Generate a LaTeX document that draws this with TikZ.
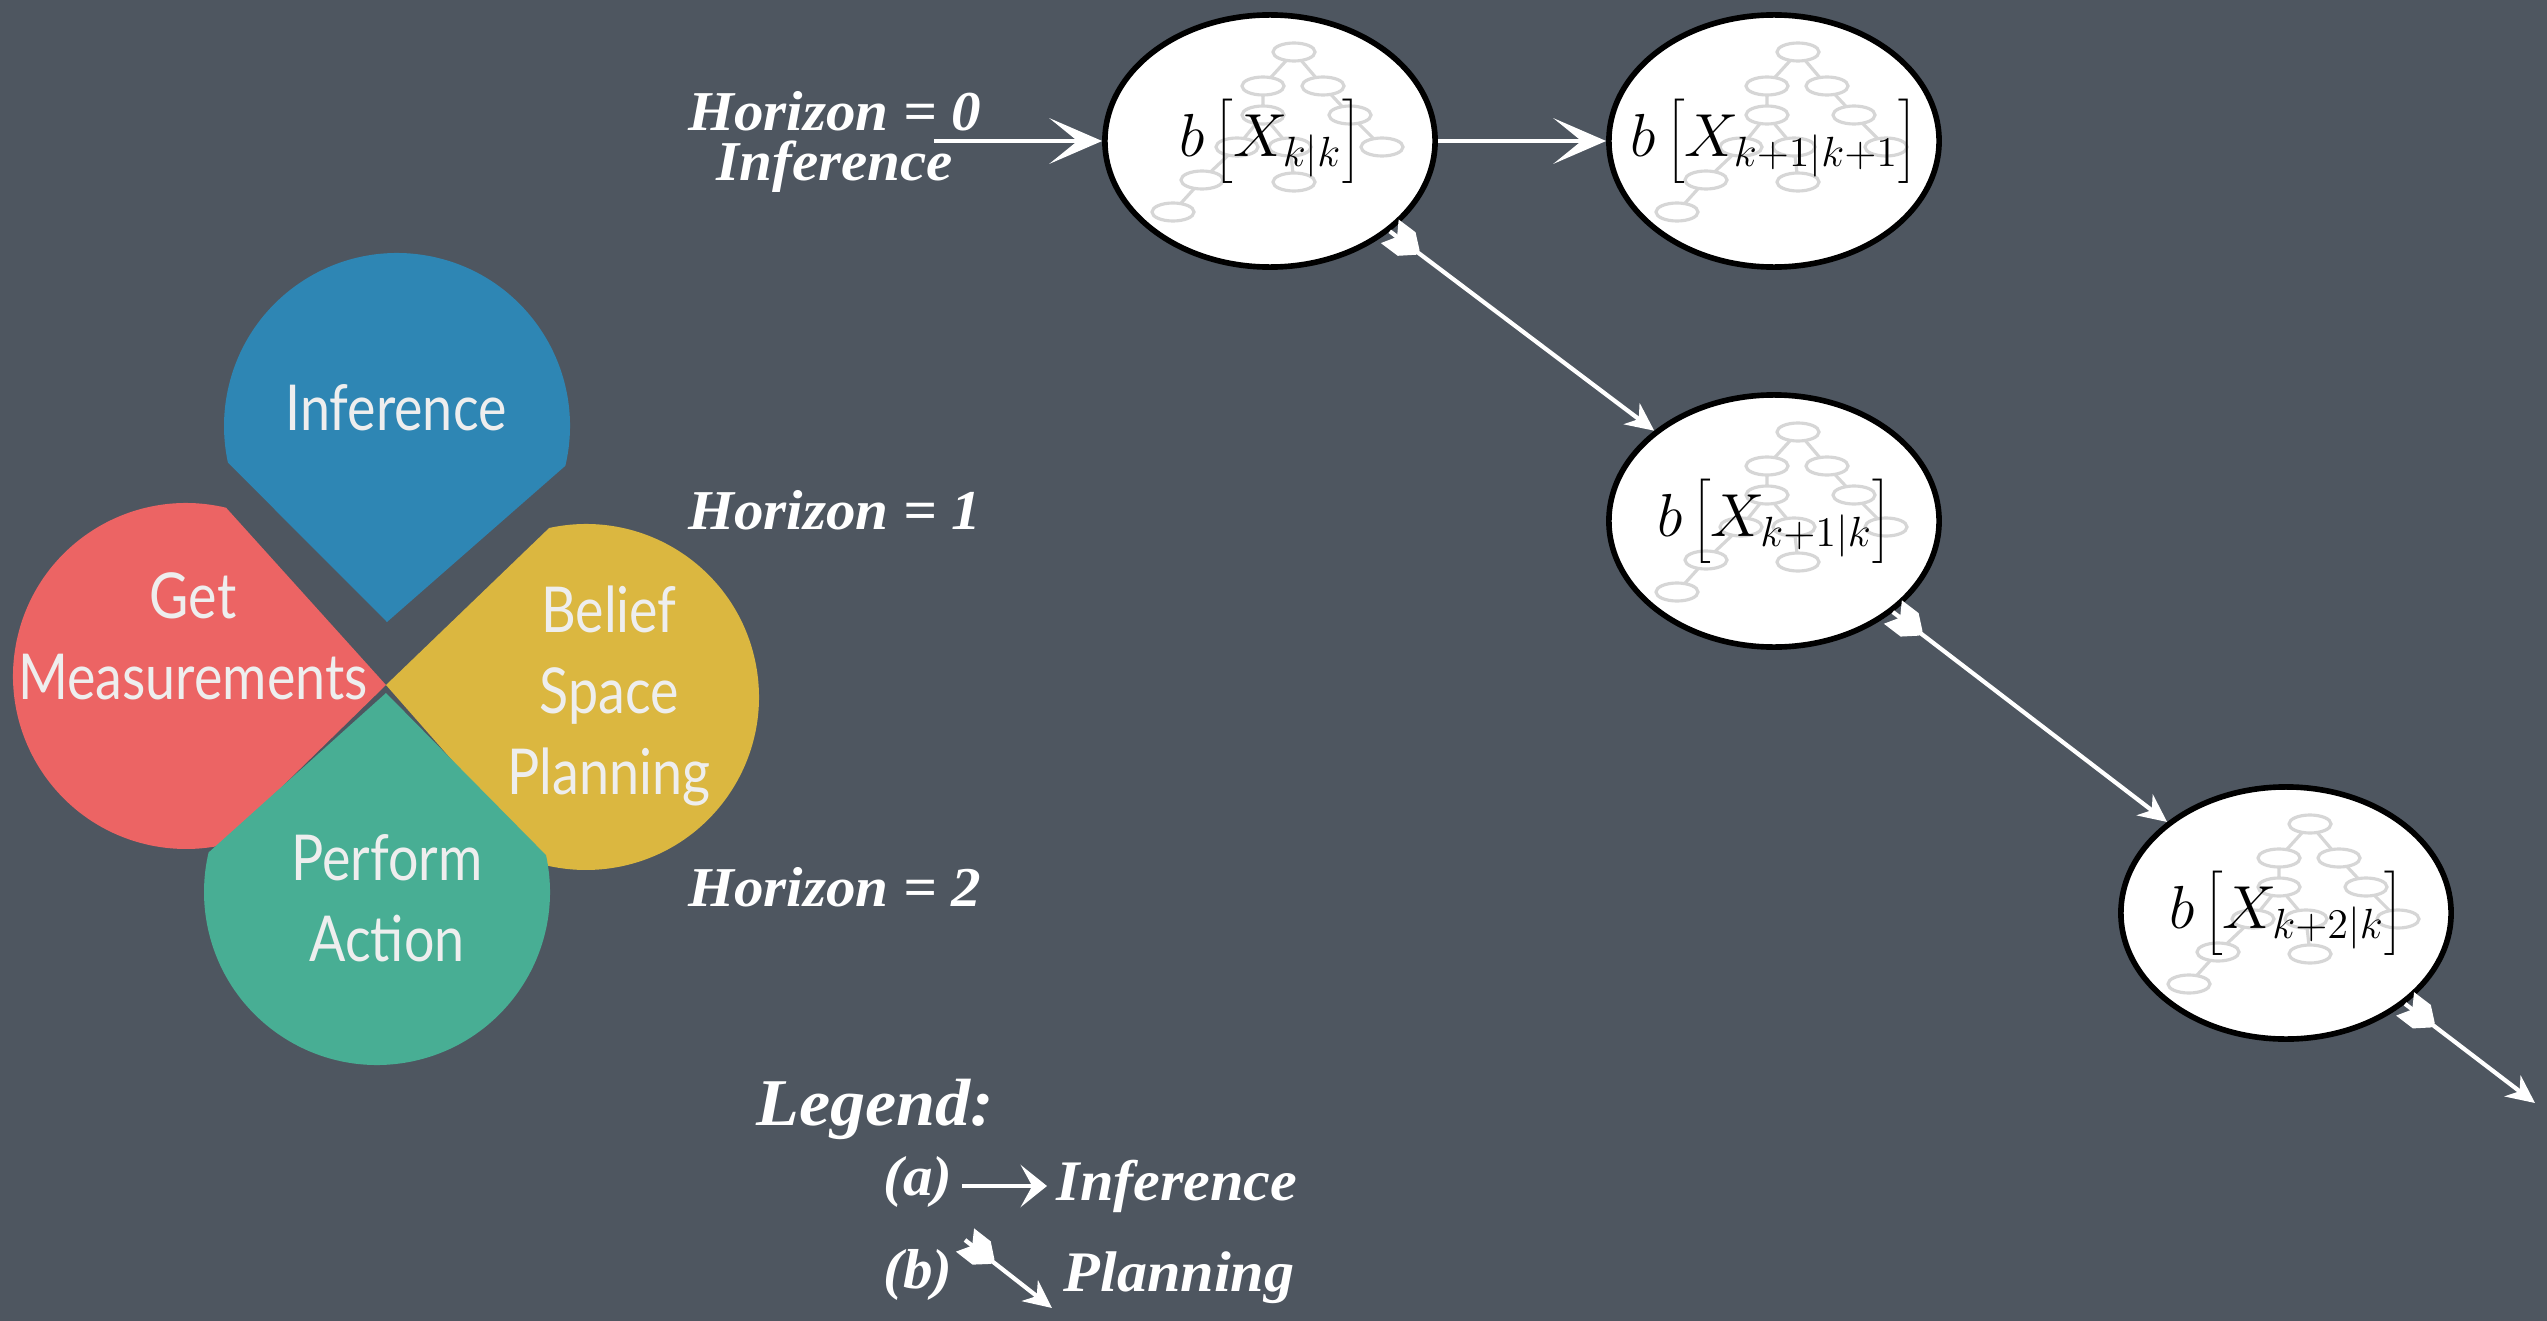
\documentclass[tikz,border=0pt]{standalone}
\usepackage{fontspec}
\setmainfont{Liberation Serif}
\newfontfamily\petalfont{Lato}[FakeStretch=0.85]
\newfontfamily\handfont{Liberation Serif}[FakeStretch=1.05]
\usetikzlibrary{arrows.meta,decorations.markings,shapes.geometric}
\definecolor{bg}{HTML}{4E5660}
\definecolor{pblue}{HTML}{2E86B4}
\definecolor{pred}{HTML}{EC6464}
\definecolor{pyellow}{HTML}{DBB740}
\definecolor{pgreen}{HTML}{48AE94}
\definecolor{ptext}{HTML}{EEEEEE}
\definecolor{treegray}{HTML}{D6D6D6}
\pgfdeclarelayer{bglayer}
\pgfdeclarelayer{filllayer}
\pgfdeclarelayer{treelayer}
\pgfsetlayers{bglayer,filllayer,treelayer,main}
\newcommand\beliefof[1]{\makebox[0pt]{$b\left[X_{#1}\right]$}}
\newcommand\fletch{\fill[white] (0pt,4.2pt) -- (2.6pt,0pt) -- (0pt,-4.2pt) -- (6pt,-4.2pt) -- (10pt,-0.8pt) -- (10pt,0.8pt) -- (6pt,4.2pt) -- cycle;}
\tikzset{
  btree/.pic={
    \begin{scope}[draw=treegray,line width=0.9pt]
      \draw (24,-89) -- (-7,-55) -- (-7,-26) -- (-33,6) -- (-68,39) -- (-97,71);
      \draw (24,-89) -- (53,-55) -- (80,-26) -- (112,6);
      \draw (-7,-26) -- (20,6) -- (24,41);
      \foreach \p in {(24,-89),(-7,-55),(53,-55),(-7,-26),(80,-26),(-33,6),(20,6),(112,6),(-68,39),(24,41),(-97,71)}
        \filldraw[fill=white] \p ellipse[x radius=21,y radius=9];
    \end{scope}},
  belief/.style={ellipse, draw=black, line width=1.6pt,
    minimum width=3.3cm, minimum height=2.52cm, inner sep=0pt,
    font=\fontsize{17}{20}\selectfont},
  infarrow/.style={-{Stealth[length=15pt,width=13pt,inset=8pt]}, draw=white, line width=1.2pt},
  legarrow/.style={-{Stealth[length=7.5pt,width=12pt,inset=3.3pt]}, draw=white, line width=1.2pt},
  planarrow/.style={-{Stealth[length=8pt,width=7.5pt,inset=2.5pt]}, draw=white, line width=1.2pt,
    postaction={decorate}, decoration={markings, mark=at position 0pt with {\fletch}}},
  petaltext/.style={text=ptext, font=\petalfont\fontsize{18}{23}\selectfont, align=center, inner sep=0pt},
  hand/.style={text=white, font=\handfont\bfseries\itshape\fontsize{16}{14.2}\selectfont, align=center, inner sep=0pt},
}
\begin{document}
\begin{tikzpicture}[x=0.01cm,y=-0.01cm]
  \begin{pgfonlayer}{bglayer}
    \fill[bg] (0,0) rectangle (2547,1321);
  \end{pgfonlayer}
  \useasboundingbox (0,0) rectangle (2547,1321);

  % petals
  \fill[pblue] (387,622) -- ([shift={(397,426)}]13.3:173) arc[start angle=13.3,end angle=-192.2,radius=173] -- cycle;
  \fill[pred] (386,685) -- ([shift={(186,676)}]-76.6:173) arc[start angle=-76.6,end angle=-282,radius=173] -- cycle;
  \fill[pyellow] (386,685) -- ([shift={(586,697)}]-102.3:173) arc[start angle=-102.3,end angle=104,radius=173] -- cycle;
  \fill[pgreen] (386,693) -- ([shift={(377,892)}]-12.3:173) arc[start angle=-12.3,end angle=193.2,radius=173] -- cycle;

  \node[petaltext] (pInf) at (396,408) {Inference};
  \node[petaltext] (pMeas) at (193,636) {Get\\Measurements};
  \node[petaltext] (pBSP) at (609,696) {Belief\\Space\\Planning};
  \node[petaltext] (pPA) at (387,898) {Perform\\Action};

  % belief nodes
  \node[belief] (e1) at (1270,141) {\beliefof{k|k}};
  \node[belief] (e2) at (1774,141) {\beliefof{k+1|k+1}};
  \node[belief] (e3) at (1774,521) {\beliefof{k+1|k}};
  \node[belief] (e4) at (2286,913) {\beliefof{k+2|k}};
  \begin{pgfonlayer}{filllayer}
    \foreach \n in {e1,e2,e3,e4}
      \fill[white] (\n.center) ellipse[x radius=165,y radius=126];
  \end{pgfonlayer}
  \begin{pgfonlayer}{treelayer}
    \foreach \n in {e1,e2,e3,e4}
      \pic at (\n.center) {btree};
  \end{pgfonlayer}

  % horizon labels
  \node[hand] (h0) at (835,142) {Horizon = 0\\Inference};
  \node[hand] (h1) at (835,510) {Horizon = 1};
  \node[hand] (h2) at (835,887) {Horizon = 2};

  \coordinate (in0) at (934,141);
  \draw[infarrow] (in0) -- (e1);
  \draw[infarrow] (e1) -- (e2);
  \draw[planarrow] (e1) -- (e3);
  \draw[planarrow] (e3) -- (e4);
  \coordinate (out4) at (2535,1103);
  \draw[planarrow] (e4) -- (out4);

  % legend
  \node[hand, font=\handfont\bfseries\itshape\fontsize{19}{23}\selectfont] (leg) at (875,1109) {Legend:};
  \node[hand] (la) at (918,1182) {(a)};
  \node[hand] (lb) at (918,1275) {(b)};
  \node[hand, font=\handfont\bfseries\itshape\fontsize{16.3}{20}\selectfont] (linf) at (1177,1186) {Inference};
  \node[hand, font=\handfont\bfseries\itshape\fontsize{16.3}{20}\selectfont] (lplan) at (1179,1278) {Planning};
  \coordinate (la1) at (962,1186);
  \coordinate (la2) at (1047,1186);
  \draw[legarrow] (la1) -- (la2);
  \coordinate (lb1) at (965,1240);
  \coordinate (lb2) at (1052,1308);
  \draw[planarrow] (lb1) -- (lb2);
\end{tikzpicture}
\end{document}
